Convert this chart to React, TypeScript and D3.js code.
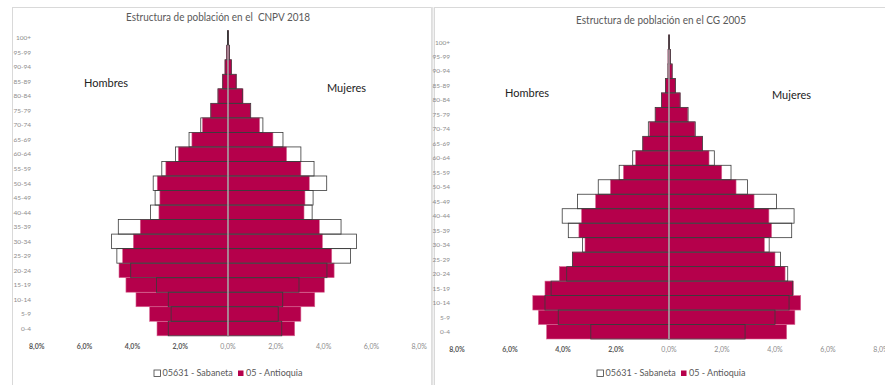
import React from "react";
import * as d3 from "d3";

const ages = ["0-4","5-9","10-14","15-19","20-24","25-29","30-34","35-39","40-44","45-49","50-54","55-59","60-64","65-69","70-74","75-79","80-84","85-89","90-94","95-99","100+"];

// CNPV 2018 (percent)
const sab2018Men = [2.50,2.38,2.50,2.99,4.07,4.65,4.87,4.59,3.24,3.05,3.13,2.77,2.20,1.63,1.14,0.72,0.42,0.22,0.12,0.05,0.02];
const ant2018Men = [2.97,3.28,3.85,4.27,4.56,4.41,3.96,3.67,2.89,2.85,2.96,2.60,2.08,1.51,1.07,0.72,0.42,0.24,0.13,0.07,0.02];
const sab2018Women = [2.25,2.10,2.29,2.97,4.14,5.13,5.38,4.73,3.52,3.56,4.13,3.60,3.05,2.30,1.46,0.95,0.60,0.34,0.14,0.06,0.02];
const ant2018Women = [2.79,3.05,3.63,4.03,4.44,4.34,3.95,3.82,3.18,3.22,3.40,3.05,2.45,1.88,1.32,0.95,0.63,0.36,0.15,0.07,0.02];

// CG 2005 (percent)
const sab2005Men = [2.95,4.18,4.68,4.45,3.86,3.64,3.26,3.80,4.03,3.45,2.67,1.88,1.37,0.99,0.78,0.52,0.28,0.13,0.04,0.03,0.01];
const ant2005Men = [4.62,4.93,5.14,4.68,4.14,3.65,3.17,3.40,3.30,2.77,2.21,1.72,1.26,0.99,0.74,0.52,0.28,0.14,0.04,0.04,0.01];
const sab2005Women = [2.87,4.00,4.53,4.67,4.48,4.21,3.78,4.63,4.72,4.06,2.96,2.34,1.71,1.26,0.99,0.72,0.42,0.24,0.12,0.06,0.02];
const ant2005Women = [4.44,4.75,4.97,4.69,4.38,4.00,3.60,3.87,3.77,3.21,2.53,1.99,1.51,1.26,0.98,0.71,0.42,0.25,0.12,0.06,0.02];

const xTicks = [-8,-6,-4,-2,0,2,4,6,8];
const legendLabels = ["05631 - Sabaneta","05 - Antioquia"];
const sideLabels = ["Hombres","Mujeres"];

const CRIMSON = "#b5004b";
const FONT = "Lato, 'Open Sans', sans-serif";

const fmt = (v: number) => Math.abs(v).toFixed(1).replace(".", ",") + "%";

type P = {
  title: string; titleX: number; titleY: number; titleLen: number;
  x0: number; x1: number; yTop: number; yBot: number;
  tickY: number; labelX: number;
  hom: [number, number]; muj: [number, number];
  legX: number; legY: number;
  sabM: number[]; antM: number[]; sabF: number[]; antF: number[];
};

function Pyramid(p: P) {
  const x = d3.scaleLinear().domain([-8, 8]).range([p.x0, p.x1]);
  const y = d3.scaleBand<string>().domain([...ages].reverse()).range([p.yTop, p.yBot]).padding(0);
  const bw = y.bandwidth();
  return (
    <g>
      <text x={p.titleX} y={p.titleY} textAnchor="middle" fontFamily={FONT} fontSize={10.5} fill="#595959"
        textLength={p.titleLen} lengthAdjust="spacingAndGlyphs" style={{ whiteSpace: "pre" }}>{p.title}</text>
      {ages.map((a) => (
        <text key={"l" + a} x={p.labelX} y={(y(a) as number) + bw / 2 + 2.3} textAnchor="end"
          fontFamily={FONT} fontSize={6.5} fill="#8c8c8c">{a}</text>
      ))}
      {ages.map((a, i) => (
        <g key={"a" + a}>
          <rect x={x(-p.antM[i])} y={y(a)} width={x(0) - x(-p.antM[i])} height={bw} fill={CRIMSON} stroke="#d86a95" strokeWidth={0.6} />
          <rect x={x(0)} y={y(a)} width={x(p.antF[i]) - x(0)} height={bw} fill={CRIMSON} stroke="#d86a95" strokeWidth={0.6} />
        </g>
      ))}
      {ages.map((a, i) => (
        <g key={"s" + a}>
          <rect x={x(-p.sabM[i])} y={y(a)} width={x(0) - x(-p.sabM[i])} height={bw} fill="none" stroke="#3a3a3a" strokeWidth={0.8} />
          <rect x={x(0)} y={y(a)} width={x(p.sabF[i]) - x(0)} height={bw} fill="none" stroke="#3a3a3a" strokeWidth={0.8} />
        </g>
      ))}
      <line x1={x(0)} x2={x(0)} y1={p.yTop + bw} y2={p.yBot} stroke="#ecd0db" strokeWidth={1} />
      {xTicks.map((t) => (
        <text key={"t" + t} x={x(t)} y={p.tickY} textAnchor="middle" fontFamily={FONT} fontSize={7}
          fontWeight={t < 0 ? "bold" : "normal"} fill={t < 0 ? "#595959" : "#8c8c8c"}>{fmt(t)}</text>
      ))}
      <text x={p.hom[0]} y={p.hom[1]} fontFamily={FONT} fontSize={11} fill="#222">{sideLabels[0]}</text>
      <text x={p.muj[0]} y={p.muj[1]} fontFamily={FONT} fontSize={11} fill="#222">{sideLabels[1]}</text>
      <rect x={p.legX} y={p.legY - 6} width={6.5} height={6.5} fill="#fff" stroke="#404040" strokeWidth={0.8} />
      <text x={p.legX + 8.5} y={p.legY} fontFamily={FONT} fontSize={9} fill="#595959">{legendLabels[0]}</text>
      <rect x={p.legX + 84} y={p.legY - 5.5} width={5.5} height={5.5} fill={CRIMSON} />
      <text x={p.legX + 92} y={p.legY} fontFamily={FONT} fontSize={9} fill="#595959">{legendLabels[1]}</text>
    </g>
  );
}

export default function App() {
  return (
    <div style={{ position: "absolute", left: 0, top: 0 }}>
      <svg width={885} height={385} style={{ display: "block", background: "#fff" }}>
        <rect x={12.5} y={7.5} width={419} height={390} fill="#fff" stroke="#d9d9d9" strokeWidth={1} />
        <rect x={434.5} y={7.5} width={460} height={390} fill="#fff" stroke="#d9d9d9" strokeWidth={1} />
        <line x1={432.5} x2={432.5} y1={7} y2={385} stroke="#e3e3e3" strokeWidth={2} />
        <Pyramid title={"Estructura de población en el  CNPV 2018"} titleX={218} titleY={21} titleLen={184}
          x0={36.8} x1={419.2} yTop={30.7} yBot={335.8} tickY={348.5} labelX={31}
          hom={[84, 87]} muj={[327, 92]} legX={154} legY={376}
          sabM={sab2018Men} antM={ant2018Men} sabF={sab2018Women} antF={ant2018Women} />
        <Pyramid title="Estructura de población en el CG 2005" titleX={661} titleY={24} titleLen={170}
          x0={457} x1={881} yTop={35} yBot={339} tickY={351.5} labelX={450}
          hom={[505, 97]} muj={[772, 99]} legX={597} legY={376}
          sabM={sab2005Men} antM={ant2005Men} sabF={sab2005Women} antF={ant2005Women} />
      </svg>
    </div>
  );
}
